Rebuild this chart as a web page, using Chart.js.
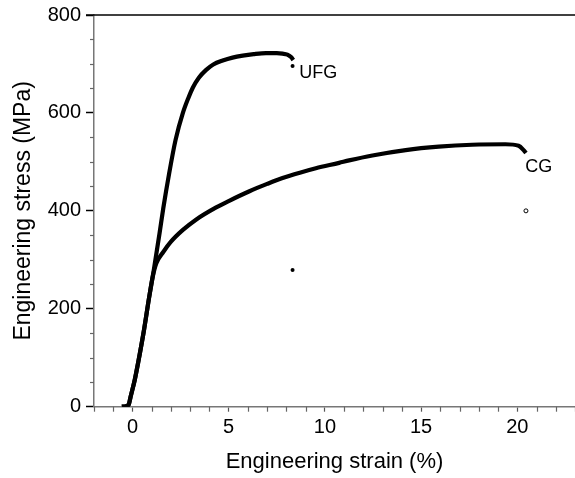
<!DOCTYPE html>
<html>
<head>
<meta charset="utf-8">
<script src="https://cdn.jsdelivr.net/npm/chart.js@4.4.1/dist/chart.umd.min.js"></script>
<style>
  html, body { margin: 0; padding: 0; background: #fff; overflow: hidden; }
  #wrap { width: 575px; height: 478px; position: relative; }
</style>
</head>
<body>
<div id="wrap"><canvas id="c"></canvas></div>
<script>
// ---- data ----
const ufgStrain = [-0.55, -0.35, -0.2, -0.1, 0.12, 0.29, 0.6, 0.86, 1.12, 1.41, 1.6, 1.9, 2.24, 2.62, 2.9, 3.14, 3.45, 3.83, 4.2, 4.69, 5.2, 5.73, 6.3, 6.94, 7.5, 7.8, 8.05, 8.24, 8.36];
const ufgStress = [0, 1, 4, 20, 55, 89, 157, 222, 282, 355, 405, 475, 545, 600, 630, 652, 672, 688, 699, 707, 713, 717, 720, 722, 722, 721, 719, 714, 708];

const cgStrain = [-0.55, -0.35, -0.2, -0.1, 0.12, 0.29, 0.6, 0.86, 1.05, 1.24, 1.6, 2.0, 2.62, 3.3, 4.35, 5.0, 6.08, 7.0, 7.8, 8.7, 9.53, 10.74, 11.26, 12.47, 14.2, 15.92, 17.65, 19.38, 20.07, 20.33, 20.45];
const cgStress = [0, 1, 4, 20, 55, 89, 157, 222, 265, 293, 316, 337, 361, 382, 407, 420, 440, 455, 467, 478, 487, 498, 503, 513, 524, 531, 535, 536, 533, 524, 518];

const ufgDotStrain = [8.32, 8.32];
const ufgDotStress = [696, 279];
const cgDotStrain = [20.45];
const cgDotStress = [400];

const xTicks = [0, 5, 10, 15, 20];
const yTicks = [0, 200, 400, 600, 800];
const xMinorStep = 1;
const yMinorStep = 50;

const labelText = ['UFG', 'CG'];
const labelStrain = [8.67, 20.41];
const labelStress = [682, 489];

const FONT = "'Liberation Sans', Arial, Helvetica, sans-serif";

function pts(xs, ys) { return xs.map((x, i) => ({ x: x, y: ys[i] })); }

const extras = {
  id: 'extras',
  afterDraw(chart) {
    const ctx = chart.ctx;
    const xs = chart.scales.x, ys = chart.scales.y;
    const area = chart.chartArea;
    ctx.save();
    ctx.strokeStyle = '#666';
    ctx.lineWidth = 1.2;
    for (let v = Math.ceil(xs.min); v <= xs.max; v += xMinorStep) {
      if (xTicks.includes(v)) continue;
      const px = Math.round(xs.getPixelForValue(v)) + 0.5;
      ctx.beginPath(); ctx.moveTo(px, area.bottom); ctx.lineTo(px, area.bottom + 5); ctx.stroke();
    }
    for (let v = ys.min; v <= ys.max; v += yMinorStep) {
      if (yTicks.includes(v)) continue;
      const py = Math.round(ys.getPixelForValue(v)) + 0.5;
      ctx.beginPath(); ctx.moveTo(area.left - 4, py); ctx.lineTo(area.left, py); ctx.stroke();
    }
    ctx.strokeStyle = '#000';
    ctx.lineWidth = 1.5;
    ctx.beginPath(); ctx.moveTo(area.left - 8, area.top); ctx.lineTo(chart.width, area.top); ctx.stroke();
    ctx.fillStyle = '#000';
    ctx.font = '18px ' + FONT;
    ctx.textAlign = 'left';
    ctx.textBaseline = 'middle';
    labelText.forEach((t, i) => {
      ctx.fillText(t, xs.getPixelForValue(labelStrain[i]), ys.getPixelForValue(labelStress[i]));
    });
    ctx.restore();
  }
};

new Chart(document.getElementById('c'), {
  type: 'scatter',
  data: {
    datasets: [
      { data: pts(ufgStrain, ufgStress), showLine: true, borderColor: '#000', borderWidth: 4.2,
        pointRadius: 0, pointHoverRadius: 0, cubicInterpolationMode: 'monotone', fill: false },
      { data: pts(cgStrain, cgStress), showLine: true, borderColor: '#000', borderWidth: 4.2,
        pointRadius: 0, pointHoverRadius: 0, cubicInterpolationMode: 'monotone', fill: false },
      { data: pts(ufgDotStrain, ufgDotStress), showLine: false, pointRadius: 2, pointHoverRadius: 2,
        pointBackgroundColor: '#000', pointBorderColor: '#000', pointBorderWidth: 0 },
      { data: pts(cgDotStrain, cgDotStress), showLine: false, pointRadius: 2, pointHoverRadius: 2,
        pointBackgroundColor: '#fff', pointBorderColor: '#000', pointBorderWidth: 1 }
    ]
  },
  options: {
    responsive: true,
    maintainAspectRatio: false,
    animation: false,
    events: [],
    layout: { autoPadding: false, padding: { top: 15, right: 0, bottom: 0, left: 0 } },
    plugins: { legend: { display: false }, tooltip: { enabled: false } },
    scales: {
      x: {
        type: 'linear', min: -2, max: 23,
        afterBuildTicks: s => { s.ticks = xTicks.map(v => ({ value: v })); },
        afterFit: s => { s.height = 71.3; s.paddingLeft = 0; s.paddingRight = 0; },
        ticks: { color: '#000', padding: 4, font: { family: FONT, size: 20 }, maxRotation: 0, autoSkip: false },
        grid: { drawOnChartArea: false, drawTicks: true, tickLength: 5, tickColor: '#555', tickWidth: 1.2 },
        border: { display: true, color: '#777', width: 1.5 },
        title: { display: true, text: 'Engineering strain (%)', color: '#000',
                 font: { family: FONT, size: 22 }, padding: { top: 0, bottom: 3 } }
      },
      y: {
        type: 'linear', min: 0, max: 800,
        afterBuildTicks: s => { s.ticks = yTicks.map(v => ({ value: v })); },
        afterFit: s => { s.width = 94; s.paddingTop = 0; s.paddingBottom = 0; },
        ticks: { color: '#000', padding: 5, font: { family: FONT, size: 20 }, autoSkip: false },
        grid: { drawOnChartArea: false, drawTicks: true, tickLength: 8, tickColor: '#000', tickWidth: 1.5 },
        border: { display: true, color: '#777', width: 1.5 },
        title: { display: true, text: 'Engineering stress (MPa)', color: '#000',
                 font: { family: FONT, size: 23 }, padding: { top: 10, bottom: 0 } }
      }
    }
  },
  plugins: [extras]
});
</script>
</body>
</html>
